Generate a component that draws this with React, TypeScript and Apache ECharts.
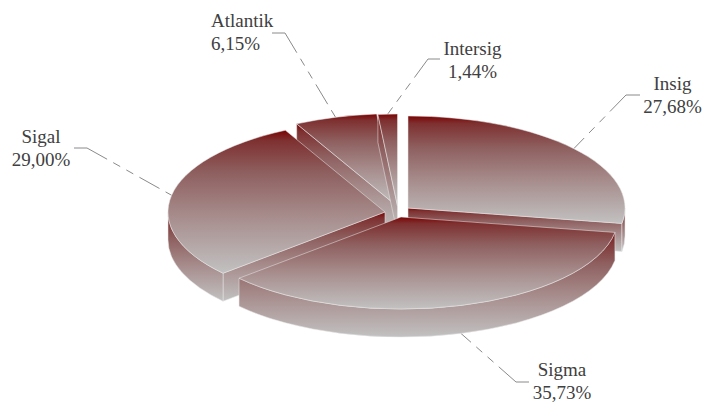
import React, { useEffect, useRef } from "react";
import * as echarts from "echarts";

const names = ["Insig", "Sigma", "Sigal", "Atlantik", "Intersig"];
const shares = [27.68, 35.73, 29.0, 6.15, 1.44];
// painter's order: back slices first
const paintOrder = [2, 4, 3, 0, 1];
// exploded apex of each slice
const apexX = [408, 401, 385, 396.3, 397.5];
const apexY = [208, 217, 212, 205.6, 206];
// label x, first-line y, alignment, leader elbow and leader end
const labelX = [672.5, 562, 41, 211, 472.5];
const labelY = [83, 369, 136, 20, 48];
const labelAlign = ["center", "center", "center", "left", "center"];
const elbowX = [626, 516, 87, 285, 428];
const elbowY = [95, 382, 148, 33, 59];
const tailX = [640, 529, 74, 272, 440];

const RX = 217;
const RY = 92;
const DEPTH = 28;
const LINE_GAP = 23.5;
const FONT = '"Liberation Serif", "Times New Roman", serif';

const shade = () => ({
  type: "linear",
  x: 0,
  y: 0,
  x2: 0,
  y2: 1,
  colorStops: [
    { offset: 0, color: "#7c0303" },
    { offset: 0.07, color: "#7e3030" },
    { offset: 0.3, color: "#8f6060" },
    { offset: 0.6, color: "#a78c8c" },
    { offset: 1, color: "#c2c1c1" },
  ],
});

const total = shares.reduce((a, b) => a + b, 0);
const rad = (d: number) => (d * Math.PI) / 180;

function renderItem(params: any, api: any) {
  const i = params.dataIndex;
  const value = api.value(0);
  let before = 0;
  for (let k = 0; k < i; k++) before += shares[k];
  const a0 = (before / total) * 360;
  const a1 = a0 + (value / total) * 360;
  const ax = apexX[i];
  const ay = apexY[i];
  const P = (a: number, d = 0): [number, number] => [
    ax + RX * Math.sin(rad(a)),
    ay - RY * Math.cos(rad(a)) + d,
  ];
  const pt = (p: number[]) => `${p[0].toFixed(2)} ${p[1].toFixed(2)}`;
  const z = paintOrder[i] * 10;
  const edge = { stroke: "rgba(232,232,232,0.75)", lineWidth: 0.7 };
  const children: any[] = [];
  const face = (d: string, zz: number) =>
    children.push({
      type: "path",
      shape: { pathData: d },
      z2: z + zz,
      style: { fill: shade(), ...edge },
    });
  const cutWall = (a: number) => {
    const p = P(a);
    face(
      `M${ax} ${ay}L${pt(p)}L${pt([p[0], p[1] + DEPTH])}L${ax} ${ay + DEPTH}Z`,
      1
    );
  };
  if (Math.sin(rad(a0)) < -1e-6) cutWall(a0);
  if (Math.sin(rad(a1)) > 1e-6) cutWall(a1);
  const s = Math.max(a0, 90);
  const e = Math.min(a1, 270);
  if (s < e) {
    face(
      `M${pt(P(s))}A${RX} ${RY} 0 0 1 ${pt(P(e))}L${pt(P(e, DEPTH))}A${RX} ${RY} 0 0 0 ${pt(P(s, DEPTH))}Z`,
      2
    );
  }
  face(
    `M${ax} ${ay}L${pt(P(a0))}A${RX} ${RY} 0 ${a1 - a0 > 180 ? 1 : 0} 1 ${pt(P(a1))}Z`,
    3
  );
  // leader line: solid tail, then a dash-dot-dot run to the rim at the slice's mid-angle
  const mid = (a0 + a1) / 2;
  const start = P(mid, Math.cos(rad(mid)) < 0 ? DEPTH : 0);
  const leader = { fill: "none", stroke: "#8a8a8a", lineWidth: 1 };
  children.push({
    type: "polyline",
    z2: -1,
    shape: { points: [[tailX[i], elbowY[i]], [elbowX[i], elbowY[i]]] },
    style: { ...leader },
  });
  children.push({
    type: "polyline",
    z2: -1,
    shape: { points: [[elbowX[i], elbowY[i]], start] },
    style: { ...leader, lineDash: [23, 7, 8, 7, 8, 7] },
  });
  [names[i], `${value.toFixed(2).replace(".", ",")}%`].forEach((text, line) => {
    children.push({
      type: "text",
      z2: 100,
      style: {
        text,
        x: labelX[i],
        y: labelY[i] + line * LINE_GAP,
        fill: "#404040",
        fontFamily: FONT,
        fontSize: 19,
        textAlign: labelAlign[i],
        textVerticalAlign: "middle",
      },
    });
  });
  return { type: "group", children };
}

export default function App() {
  const ref = useRef<HTMLDivElement>(null);
  useEffect(() => {
    document.body.style.margin = "0";
    const chart = echarts.init(ref.current!, undefined, { renderer: "svg" });
    chart.setOption({
      animation: false,
      backgroundColor: "#ffffff",
      series: [
        {
          type: "custom",
          coordinateSystem: "none",
          silent: true,
          renderItem,
          data: shares.map((v, i) => ({ name: names[i], value: [v] })),
        },
      ],
    });
    return () => chart.dispose();
  }, []);
  return <div ref={ref} style={{ width: 703, height: 402 }} />;
}
